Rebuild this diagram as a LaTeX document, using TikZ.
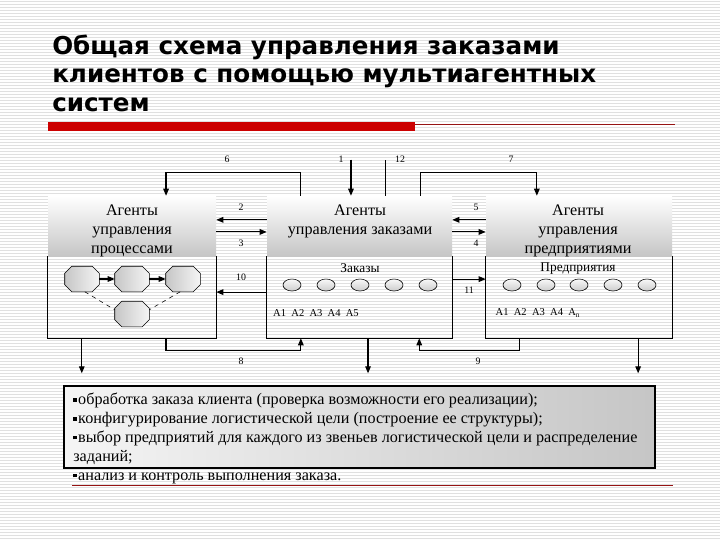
\documentclass[tikz,border=0pt]{standalone}
\usepackage{fontspec}
\setmainfont{Liberation Serif}
\newfontfamily\titlefont{DejaVu Sans}
\usepackage{xcolor}
\usepackage{tikz}
\usetikzlibrary{shapes.geometric, arrows.meta, positioning, calc}
\definecolor{slred}{RGB}{204,0,0}
\definecolor{sldark}{RGB}{150,20,20}
\definecolor{slstripe}{RGB}{224,224,224}
\def\px{0.025cm}
\newcommand{\sqbul}{\rule[0.45ex]{2.3pt}{2.3pt}\hspace{1.2pt}}

\begin{document}
\begin{tikzpicture}[x=0.025cm, y=-0.025cm,
  every node/.style={inner sep=0pt},
  hdr/.style={rectangle, top color=white, bottom color=gray!45,
              minimum height=60*\px},
  frame/.style={rectangle, minimum height=142*\px},
  agent/.style={font=\fontsize{11.5}{13.5}\selectfont, align=center},
  octa/.style={rectangle, minimum width=34*\px, minimum height=25*\px},
  octfill/.style={thin, draw, left color=gray!45, right color=gray!8},
  ord/.style={ellipse, draw, thin, top color=gray!5, bottom color=gray!40,
              minimum width=18*\px, minimum height=12*\px},
  num/.style={font=\fontsize{7}{8}\selectfont},
  sub/.style={font=\fontsize{9.5}{11}\selectfont},
  ids/.style={font=\fontsize{7.5}{9}\selectfont},
  arr/.style={-{Triangle[length=5pt,width=4pt]}, line width=0.8pt},
  ln/.style={line width=0.8pt},
]
\useasboundingbox (0,0) rectangle (720,540);

% slide background
\fill[white] (0,0) rectangle (720,540);
\foreach \y in {1,4,...,540}
  \draw[slstripe, line width=0.7pt] (0,\y) -- (720,\y);

\node[anchor=north west, align=left,
      font=\titlefont\bfseries\fontsize{17.5}{20}\selectfont] (title) at (52,35)
  {Общая схема управления заказами\\клиентов с помощью мультиагентных\\систем};
\fill[slred] (48,122) rectangle (415,131);
\draw[sldark, line width=0.6pt] (415,124) -- (675,124);
\draw[sldark, line width=0.6pt] (72,485) -- (673,485);

% agent boxes
\node[frame, minimum width=168*\px] (procbox) at (132,267) {};
\node[frame, minimum width=185*\px] (ordbox)  at (359.5,267) {};
\node[frame, minimum width=186*\px] (entbox)  at (579,267) {};
\node[hdr, minimum width=168*\px, anchor=north] (prochdr) at (procbox.north) {};
\node[hdr, minimum width=185*\px, anchor=north] (ordhdr)  at (ordbox.north) {};
\node[hdr, minimum width=186*\px, anchor=north] (enthdr)  at (entbox.north) {};
\draw[ln] (procbox.west |- prochdr.south) -- (procbox.south west) -- (procbox.south east) -- (procbox.east |- prochdr.south);
\draw[ln] (ordbox.west |- ordhdr.south) -- (ordbox.south west) -- (ordbox.south east) -- (ordbox.east |- ordhdr.south);
\draw[ln] (entbox.west |- enthdr.south) -- (entbox.south west) -- (entbox.south east) -- (entbox.east |- enthdr.south);

\node[agent] (procname) at (132,231) {Агенты\\управления\\процессами};
\node[agent] (ordname)  at (360,221) {Агенты\\управления заказами};
\node[agent] (entname)  at (578,231) {Агенты\\управления\\предприятиями};

% processes
\node[octa] (oct1) at (82,279) {};
\node[octa] (oct2) at (132,279) {};
\node[octa] (oct3) at (183,279) {};
\node[octa] (oct4) at (132,314) {};
\foreach \o in {oct1,oct2,oct3,oct4}
  \draw[octfill] ([xshift=5pt]\o.north west) -- ([xshift=-5pt]\o.north east)
    -- ([yshift=-5pt]\o.north east) -- ([yshift=5pt]\o.south east)
    -- ([xshift=-5pt]\o.south east) -- ([xshift=5pt]\o.south west)
    -- ([yshift=5pt]\o.south west) -- ([yshift=-5pt]\o.north west) -- cycle;
\draw[arr] (oct1) -- (oct2);
\draw[arr] (oct2) -- (oct3);
\draw[thin, dashed] ([xshift=2pt]oct1.south) -- ([yshift=3pt]oct4.west);
\draw[thin, dashed] ([xshift=-2pt]oct3.south) -- ([yshift=3pt]oct4.east);

% orders
\node[sub] (ordlbl) at (360,268) {Заказы};
\node[ord] (ord1) at (292,285) {};
\node[ord] (ord2) at (326,285) {};
\node[ord] (ord3) at (360,285) {};
\node[ord] (ord4) at (394,285) {};
\node[ord] (ord5) at (428,285) {};
\node[ids] (ordids) at (316,313) {A1\ \ A2\ \ A3\ \ A4\ \ A5};

% enterprises
\node[sub] (entlbl) at (578,269) {Предприятия};
\node[ord] (ent1) at (512,285) {};
\node[ord] (ent2) at (546,285) {};
\node[ord] (ent3) at (579,285) {};
\node[ord] (ent4) at (613,285) {};
\node[ord] (ent5) at (647,285) {};
\node[ids] (entids) at (538,313) {A1\ \ A2\ \ A3\ \ A4\ \ A\textsubscript{n}};

% links above
\draw[arr] ($(ordbox.north west)!.184!(ordbox.north east)$) -- ++(0,-23) -| ($(procbox.north west)!.702!(procbox.north east)$);
\draw[arr] ($(ordbox.north west)!.454!(ordbox.north east)$) coordinate (p1) ++(0,-36) -- (p1);
\draw[ln]  ($(ordbox.north west)!.638!(ordbox.north east)$) -- ++(0,-36);
\draw[arr] ($(ordbox.north west)!.827!(ordbox.north east)$) -- ++(0,-23) -| ($(entbox.north west)!.274!(entbox.north east)$);
\node[num] (n6)  at (227,159) {6};
\node[num] (n1)  at (341,159) {1};
\node[num] (n12) at (400,159) {12};
\node[num] (n7)  at (511,159) {7};

% links between boxes
\draw[arr] ($(ordbox.north west)!.169!(ordbox.south west)$) coordinate (p2) -- (p2 -| procbox.east);
\draw[arr] ($(procbox.north east)!.254!(procbox.south east)$) coordinate (p3) -- (p3 -| ordbox.west);
\draw[arr] ($(ordbox.north west)!.676!(ordbox.south west)$) coordinate (p10) -- (p10 -| procbox.east);
\draw[arr] ($(entbox.north west)!.169!(entbox.south west)$) coordinate (p5) -- (p5 -| ordbox.east);
\draw[arr] ($(ordbox.north east)!.254!(ordbox.south east)$) coordinate (p4) -- (p4 -| entbox.west);
\draw[arr] ($(ordbox.north east)!.585!(ordbox.south east)$) coordinate (p11) -- (p11 -| entbox.west);
\node[num] (n2)  at (241,207) {2};
\node[num] (n3)  at (241,243) {3};
\node[num] (n10) at (241,277) {10};
\node[num] (n5)  at (476,207) {5};
\node[num] (n4)  at (476,243) {4};
\node[num] (n11) at (469,290) {11};

% links below
\draw[arr] ($(procbox.south west)!.202!(procbox.south east)$) -- ++(0,35);
\draw[arr] ($(procbox.south west)!.702!(procbox.south east)$) -- ++(0,12) -| ($(ordbox.south west)!.184!(ordbox.south east)$);
\draw[arr] ($(ordbox.south west)!.546!(ordbox.south east)$) -- ++(0,35);
\draw[arr] ($(entbox.south west)!.183!(entbox.south east)$) -- ++(0,12) -| ($(ordbox.south west)!.822!(ordbox.south east)$);
\draw[arr] ($(entbox.south west)!.817!(entbox.south east)$) -- ++(0,35);
\node[num] (n8) at (241,361) {8};
\node[num] (n9) at (478,361) {9};

% tasks
\node[rectangle, draw, line width=0.8pt, left color=gray!8, right color=gray!45,
      minimum width=591*\px, minimum height=82*\px] (taskbox) at (359.5,427) {};
\node[anchor=north west, align=left, font=\fontsize{11.5}{13.5}\selectfont] (tasks) at (73,393)
  {\sqbul обработка заказа клиента (проверка возможности его реализации);\\
   \sqbul конфигурирование логистической цели (построение ее структуры);\\
   \sqbul выбор предприятий для каждого из звеньев логистической цели и распределение\\
   заданий;\\
   \sqbul анализ и контроль выполнения заказа.};

\end{tikzpicture}
\end{document}
